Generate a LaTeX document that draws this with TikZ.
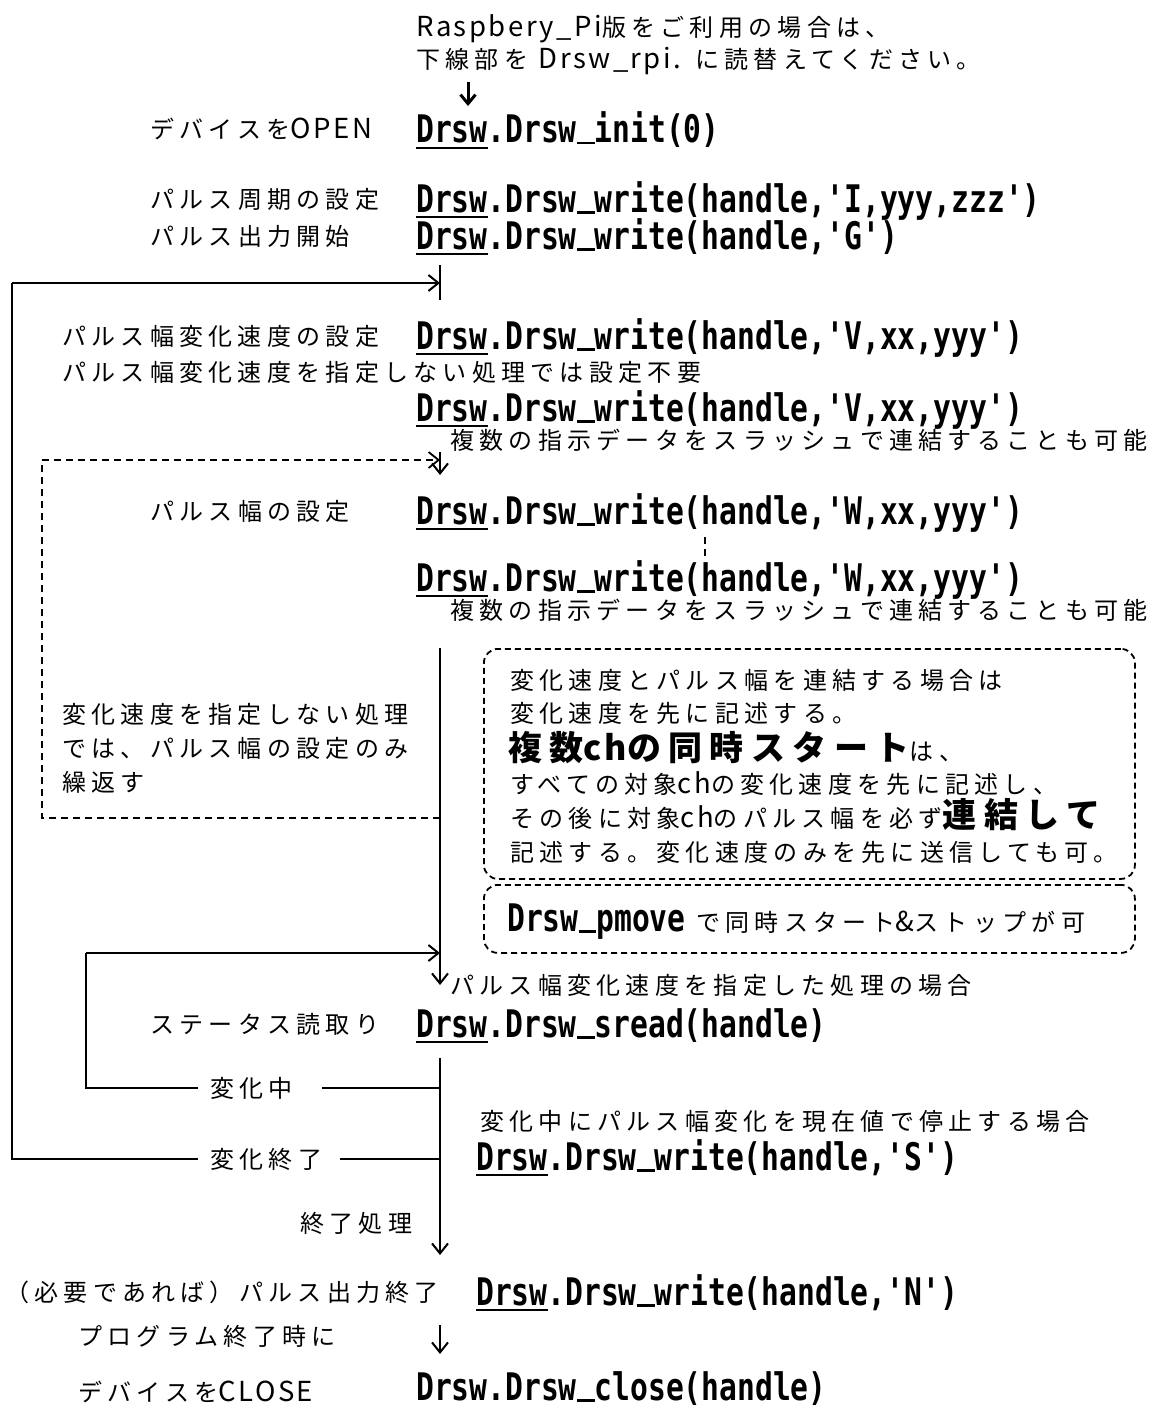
\documentclass[tikz,border=0pt]{standalone}
\usepackage{fontspec}
\usetikzlibrary{arrows.meta}
\newfontfamily\jp[LetterSpace=22]{Noto Sans CJK JP}
\newfontfamily\cf[FakeStretch=0.78,UprightFont={* Bold}]{DejaVu Sans Mono}
\newcommand\ud[1]{\setbox0\hbox{#1}\rlap{\rule[-6pt]{\wd0}{2.4pt}}\box0}
\newcommand\us{\setbox0\hbox{x}\rule[-1.5pt]{\wd0}{2.5pt}}
\newcommand\bigb[1]{{\bfseries\fontsize{34}{38}\selectfont #1}}
\newcommand\la[1]{{\addfontfeature{LetterSpace=9}\fontsize{27.5}{30}\selectfont #1}}
\newcommand\lab[1]{{\addfontfeature{LetterSpace=8}#1}}
\begin{document}
\begin{tikzpicture}[x=1pt,y=-1pt,
  jt/.style={anchor=base west, inner sep=0pt, font=\jp\fontsize{24}{28}\selectfont},
  ct/.style={anchor=base west, inner sep=0pt, font=\cf\fontsize{38}{42}\selectfont},
  flow/.style={line width=2pt},
  arr/.style={flow, -{Straight Barb[length=10pt,width=16pt]}},
  dsh/.style={line width=1.8pt, dash pattern=on 7pt off 5pt},
  dbox/.style={draw, line width=1.8pt, dash pattern=on 6pt off 4pt, rounded corners=14pt, inner sep=0pt, anchor=north west}]
\useasboundingbox (0,0) rectangle (1156,1407);

% ---- top note
\node[jt] (note1) at (416,37) {\la{Raspbery\_Pi}版をご利用の場合は、};
\node[jt] (note2) at (416,69) {下線部を \la{Drsw\_rpi.} に読替えてください。};

% ---- labels (left)
\node[jt] (lopen) at (150,139) {デバイスを\la{OPEN}};
\node[jt] (lper)  at (150,208) {パルス周期の設定};
\node[jt] (lout)  at (150,245) {パルス出力開始};
\node[jt] (lspd)  at (62,345)  {パルス幅変化速度の設定};
\node[jt] (lspd2) at (62,381)  {パルス幅変化速度を指定しない処理では設定不要};
\node[jt] (lmul1) at (450,449) {複数の指示データをスラッシュで連結することも可能};
\node[jt] (lwid)  at (150,520) {パルス幅の設定};
\node[jt] (lmul2) at (450,619) {複数の指示データをスラッシュで連結することも可能};
\node[jt] (lrep1) at (62,723)  {変化速度を指定しない処理};
\node[jt] (lrep2) at (62,757)  {では、パルス幅の設定のみ};
\node[jt] (lrep3) at (62,791)  {繰返す};
\node[jt] (lcase) at (450,994) {パルス幅変化速度を指定した処理の場合};
\node[jt] (lstat) at (150,1033) {ステータス読取り};
\node[jt] (lchg)  at (210,1097) {変化中};
\node[jt] (lstop) at (480,1130) {変化中にパルス幅変化を現在値で停止する場合};
\node[jt] (lend)  at (210,1168) {変化終了};
\node[jt] (lfin)  at (300,1232) {終了処理};
\node[jt] (lneed) at (5,1301)   {（必要であれば）パルス出力終了};
\node[jt] (lprg1) at (78,1345)  {プログラム終了時に};
\node[jt] (lprg2) at (78,1401)  {デバイスを\la{CLOSE}};

% ---- code
\node[ct] (cinit) at (416,143)  {\ud{Drsw}.Drsw\us init(0)};
\node[ct] (cI)    at (416,212)  {\ud{Drsw}.Drsw\us write(handle,'I,yyy,zzz')};
\node[ct] (cG)    at (416,249)  {\ud{Drsw}.Drsw\us write(handle,'G')};
\node[ct] (cV1)   at (416,349)  {\ud{Drsw}.Drsw\us write(handle,'V,xx,yyy')};
\node[ct] (cV2)   at (416,421)  {\ud{Drsw}.Drsw\us write(handle,'V,xx,yyy')};
\node[ct] (cW1)   at (416,524)  {\ud{Drsw}.Drsw\us write(handle,'W,xx,yyy')};
\node[ct] (cW2)   at (416,591)  {\ud{Drsw}.Drsw\us write(handle,'W,xx,yyy')};
\node[ct] (cread) at (416,1037) {\ud{Drsw}.Drsw\us sread(handle)};
\node[ct] (cS)    at (476,1170) {\ud{Drsw}.Drsw\us write(handle,'S')};
\node[ct] (cN)    at (476,1305) {\ud{Drsw}.Drsw\us write(handle,'N')};
\node[ct] (cclose) at (416,1400) {Drsw.Drsw\us close(handle)};

% ---- note boxes
\node[dbox, minimum width=651pt, minimum height=230pt] (box1) at (483,648) {};
\node[dbox, minimum width=651pt, minimum height=68pt] (box2) at (483,884) {};
\node[jt] (b1) at (510,689) {変化速度とパルス幅を連結する場合は};
\node[jt] (b2) at (510,722) {変化速度を先に記述する。};
\node[jt] (b3) at (508,760) {\bigb{複数\lab{ch}の同時スタート}は、};
\node[jt] (b4) at (510,793) {すべての対象\la{ch}の変化速度を先に記述し、};
\node[jt] (b5) at (510,827) {その後に対象\la{ch}のパルス幅を必ず\bigb{連結して}};
\node[jt] (b6) at (510,861) {記述する。変化速度のみを先に送信しても可。};
\node[jt] (b7) at (507,931) {{\cf\fontsize{38}{42}\selectfont Drsw\us pmove} で同時スタート\la{\&}ストップが可};

% ---- coordinates
\coordinate (t1) at (468,82);   \coordinate (t2) at (468,106);
\coordinate (a1) at (440,265);  \coordinate (a2) at (440,300);
\coordinate (a3) at (12,283);   \coordinate (k1) at (440,283);
\coordinate (a4) at (12,1159);
\coordinate (e1) at (198,1159); \coordinate (e2) at (340,1159); \coordinate (e3) at (440,1159);
\coordinate (b1s) at (440,452); \coordinate (b2s) at (440,475);
\coordinate (d1) at (440,818);  \coordinate (d2) at (42,818);
\coordinate (d3) at (42,460);   \coordinate (d4) at (440,460);
\coordinate (s1) at (705,537);  \coordinate (s2) at (705,557);
\coordinate (m1) at (440,648);  \coordinate (m2) at (440,985);
\coordinate (c1) at (86,953);   \coordinate (c2) at (440,953);
\coordinate (c3) at (86,1088);  \coordinate (c4) at (198,1088);
\coordinate (c5) at (322,1088); \coordinate (c6) at (440,1088);
\coordinate (n1) at (440,1058); \coordinate (n2) at (440,1255);
\coordinate (p1) at (440,1325); \coordinate (p2) at (440,1354);

% ---- connectors
\draw[line width=3pt, -{Straight Barb[length=9pt,width=15pt,line width=3pt]}] (t1) -- (t2);
\draw[flow] (a1) -- (a2);
\draw[arr] (b1s) -- (b2s);
\draw[dsh] (d1) -- (d2) -- (d3);
\draw[dsh, -{Straight Barb[length=10pt,width=16pt]}] (d3) -- (d4);
\draw[dsh] (s1) -- (s2);
\draw[arr] (m1) -- (m2);
\draw[flow] (c6) -- (c5);
\draw[flow] (c4) -- (c3) -- (c1);
\draw[arr] (c1) -- (c2);
\draw[arr] (n1) -- (n2);
\draw[flow] (e3) -- (e2);
\draw[flow] (e1) -- (a4) -- (a3);
\draw[arr] (a3) -- (k1);
\draw[arr] (p1) -- (p2);
\end{tikzpicture}
\end{document}
